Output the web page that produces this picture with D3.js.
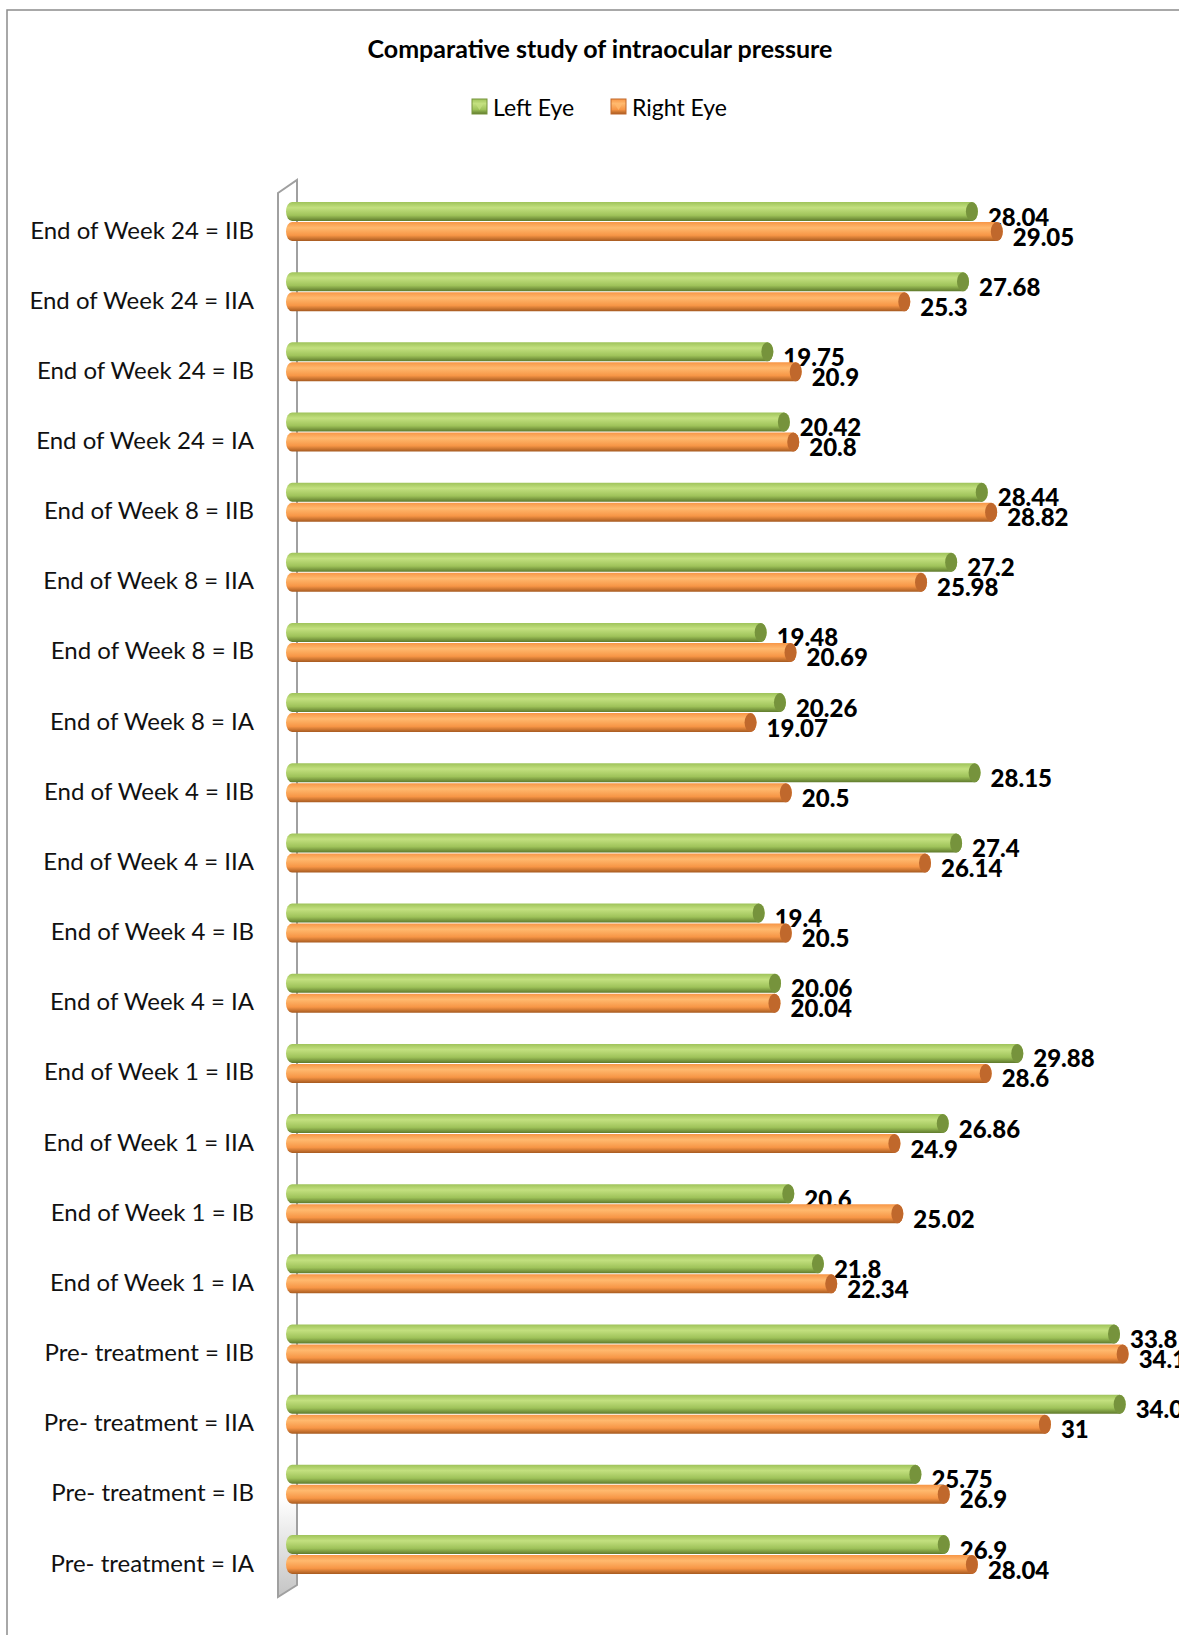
<!doctype html>
<html>
  <head>
    <script src="https://cdnjs.cloudflare.com/ajax/libs/d3/7.8.5/d3.min.js"></script>
    <style>
      body { margin: 0; background: #fff; }
      svg { display: block; }
    </style>
  </head>
  <body>
    <svg width="1179" height="1635"></svg>
    <script>
        // categories top to bottom, as they appear on the chart
        var categories = [
            "End of Week 24 = IIB", "End of Week 24 = IIA", "End of Week 24 = IB", "End of Week 24 = IA",
            "End of Week 8 = IIB", "End of Week 8 = IIA", "End of Week 8 = IB", "End of Week 8 = IA",
            "End of Week 4 = IIB", "End of Week 4 = IIA", "End of Week 4 = IB", "End of Week 4 = IA",
            "End of Week 1 = IIB", "End of Week 1 = IIA", "End of Week 1 = IB", "End of Week 1 = IA",
            "Pre- treatment = IIB", "Pre- treatment = IIA", "Pre- treatment = IB", "Pre- treatment = IA"
        ];
        var leftEye = [28.04, 27.68, 19.75, 20.42, 28.44, 27.2, 19.48, 20.26, 28.15, 27.4,
                       19.4, 20.06, 29.88, 26.86, 20.6, 21.8, 33.8, 34.03, 25.75, 26.9];
        var rightEye = [29.05, 25.3, 20.9, 20.8, 28.82, 25.98, 20.69, 19.07, 20.5, 26.14,
                        20.5, 20.04, 28.6, 24.9, 25.02, 22.34, 34.15, 31, 26.9, 28.04];
        var seriesNames = ["Left Eye", "Right Eye"];

        var svg = d3.select("svg");
        var defs = svg.append("defs");

        var colors = {
            "Left Eye":  {top: "#c3e07f", mid: "#9fc35a", bot: "#5f7a2c", cap: "#76933c"},
            "Right Eye": {top: "#ffb96e", mid: "#f79646", bot: "#a65a20", cap: "#c0682c"}
        };

        seriesNames.forEach((s, i) => {
            var g = defs.append("linearGradient").attr("id", "grad" + i)
                .attr("x1", 0).attr("y1", 0).attr("x2", 0).attr("y2", 1);
            g.append("stop").attr("offset", "0%").attr("stop-color", colors[s].mid);
            g.append("stop").attr("offset", "30%").attr("stop-color", colors[s].top);
            g.append("stop").attr("offset", "70%").attr("stop-color", colors[s].mid);
            g.append("stop").attr("offset", "100%").attr("stop-color", colors[s].bot);
        });

        var wallGrad = defs.append("linearGradient").attr("id", "wall")
            .attr("x1", 0).attr("y1", 0).attr("x2", 0).attr("y2", 1);
        wallGrad.append("stop").attr("offset", "0%").attr("stop-color", "#ffffff");
        wallGrad.append("stop").attr("offset", "93%").attr("stop-color", "#ffffff");
        wallGrad.append("stop").attr("offset", "100%").attr("stop-color", "#c4c4c4");

        // outer chart frame
        svg.append("rect")
            .attr("x", 7).attr("y", 10)
            .attr("width", 1200).attr("height", 1700)
            .attr("fill", "none").attr("stroke", "#8c8c8c").attr("stroke-width", 1.5);

        // title
        svg.append("text")
            .attr("x", 600).attr("y", 48)
            .attr("text-anchor", "middle").attr("dominant-baseline", "central")
            .attr("font-family", "Lato, sans-serif").attr("font-weight", "bold")
            .attr("font-size", 25)
            .text("Comparative study of intraocular pressure");

        // legend
        var legendX = [472, 611];
        seriesNames.forEach((s, i) => {
            var lg = svg.append("g").attr("transform", "translate(" + legendX[i] + ",99)");
            lg.append("rect").attr("width", 15).attr("height", 15)
                .attr("fill", "url(#grad" + i + ")").attr("stroke", colors[s].cap).attr("stroke-width", 1);
            lg.append("path").attr("d", "M3,4 L12,4 L7.5,11 Z").attr("fill", colors[s].top).attr("opacity", 0.8);
            lg.append("text").attr("x", 21).attr("y", 7.5)
                .attr("dominant-baseline", "central")
                .attr("font-family", "Lato, sans-serif").attr("font-size", 23)
                .text(s);
        });

        var x = d3.scaleLinear().domain([0, 40]).range([286, 1273]);
        var y = d3.scalePoint().domain(categories).range([222, 1555]);
        var barH = 20;

        // 3D side wall
        svg.append("path")
            .attr("d", "M278,193 L297,180 L297,1585 L278,1597 Z")
            .attr("fill", "url(#wall)").attr("stroke", "#a0a0a0").attr("stroke-width", 2);

        // category labels
        svg.append("g").selectAll("text")
            .data(categories)
            .join("text")
            .attr("x", 254)
            .attr("y", d => y(d) + 7)
            .attr("text-anchor", "end").attr("dominant-baseline", "central")
            .attr("font-family", "Lato, sans-serif").attr("font-size", 24)
            .attr("fill", "#111")
            .text(d => d);

        var rows = [];
        categories.forEach((c, i) => {
            rows.push({cat: c, s: 0, v: leftEye[i]});
            rows.push({cat: c, s: 1, v: rightEye[i]});
        });

        var bars = svg.append("g").selectAll("g")
            .data(rows)
            .join("g");

        bars.append("rect")
            .attr("x", d => x(0))
            .attr("y", d => y(d.cat) - barH + d.s * barH)
            .attr("width", d => x(d.v) - x(0))
            .attr("height", barH - 1)
            .attr("rx", 6).attr("ry", (barH - 1) / 2)
            .attr("fill", d => "url(#grad" + d.s + ")");

        bars.append("ellipse")
            .attr("cx", d => x(d.v) - 6)
            .attr("cy", d => y(d.cat) - barH + d.s * barH + (barH - 1) / 2)
            .attr("rx", 6).attr("ry", (barH - 1) / 2)
            .attr("fill", d => colors[seriesNames[d.s]].cap);

        bars.append("text")
            .attr("x", d => x(d.v) + 10)
            .attr("y", d => y(d.cat) - barH + d.s * barH + barH / 2 + 4)
            .attr("dominant-baseline", "central")
            .attr("font-family", "Lato, sans-serif").attr("font-weight", 900)
            .attr("font-size", 24)
            .attr("fill", "#000")
            .text(d => d.v);
    </script>
  </body>
</html>
